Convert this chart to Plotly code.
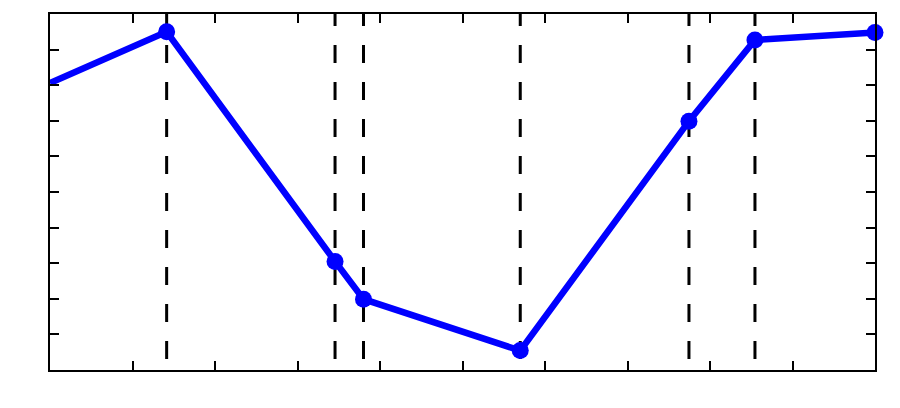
import plotly.graph_objects as go

# data (axis units 0..10 on both axes)
x_vals = [0.0, 1.414, 3.455, 3.80, 5.70, 7.745, 8.545, 10.0]
y_vals = [8.06, 9.50, 3.05, 1.99, 0.545, 6.99, 9.27, 9.48]
# the points that get a dashed vertical marker line
event_x = [1.414, 3.455, 3.80, 5.70, 7.745, 8.545]

fig = go.Figure()

# dashed vertical lines
for ex in event_x:
    fig.add_trace(go.Scatter(
        x=[ex, ex], y=[10.17, 0], mode='lines',
        line=dict(color='black', width=3, dash='18px,19px'),
        hoverinfo='skip', showlegend=False,
    ))

# blue line (first point enters from the left edge, no marker)
fig.add_trace(go.Scatter(
    x=x_vals, y=y_vals, mode='lines',
    line=dict(color='#0000ff', width=6.5),
    showlegend=False,
))
fig.add_trace(go.Scatter(
    x=x_vals[1:], y=y_vals[1:], mode='markers',
    marker=dict(color='#0000ff', size=17),
    cliponaxis=False, showlegend=False,
))

axis_style = dict(
    range=[0, 10], dtick=1, tick0=0,
    showline=True, mirror='ticks', linecolor='black', linewidth=2,
    ticks='inside', ticklen=9, tickwidth=2, tickcolor='black',
    showticklabels=False, showgrid=False, zeroline=False,
)
# page body has an 8px margin, so the figure is sized/offset to compensate
fig.update_layout(
    xaxis=axis_style, yaxis=axis_style,
    plot_bgcolor='white', paper_bgcolor='white',
    width=892, height=400,
    margin=dict(l=42, r=25, t=4, b=38),
)
fig.write_html("out.html")
